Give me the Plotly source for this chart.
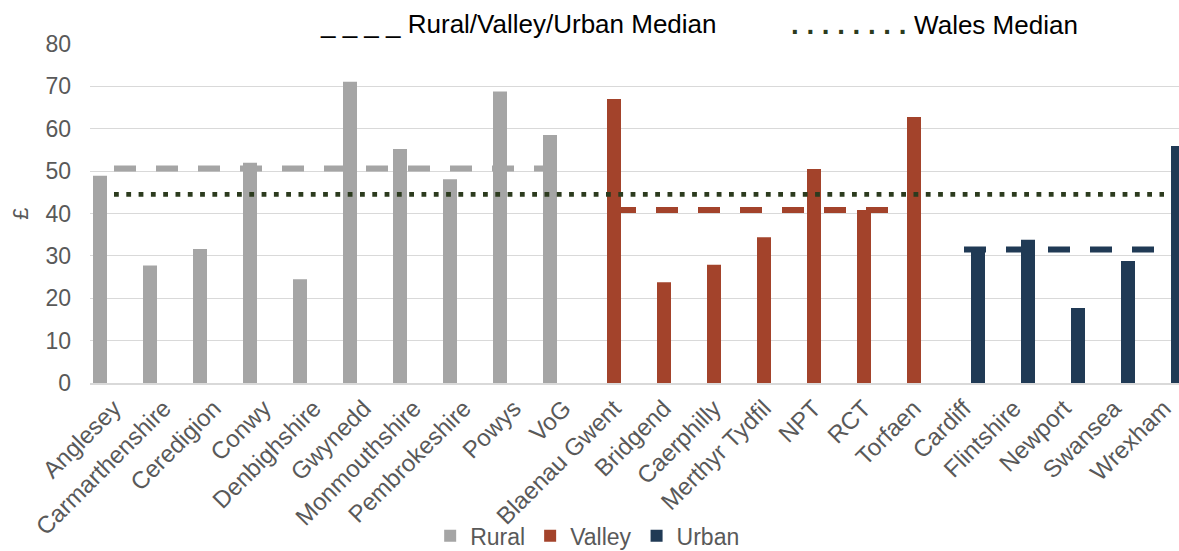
import plotly.graph_objects as go

# ---- data ----
categories = ["Anglesey", "Carmarthenshire", "Ceredigion", "Conwy", "Denbighshire",
              "Gwynedd", "Monmouthshire", "Pembrokeshire", "Powys", "VoG",
              "Blaenau Gwent", "Bridgend", "Caerphilly", "Merthyr Tydfil", "NPT",
              "RCT", "Torfaen",
              "Cardiff", "Flintshire", "Newport", "Swansea", "Wrexham"]

rural_names = categories[0:10]
valley_names = categories[10:17]
urban_names = categories[17:22]

rural_values = [48.9, 27.7, 31.6, 52.0, 24.5, 71.1, 55.2, 48.1, 68.8, 58.5]
valley_values = [67.0, 23.8, 27.9, 34.4, 50.5, 40.8, 62.8]
urban_values = [31.5, 33.8, 17.7, 28.8, 55.9]

rural_median = 50.6
valley_median = 40.8
urban_median = 31.5
wales_median = 44.5

y_ticks = [0, 10, 20, 30, 40, 50, 60, 70, 80]

# ---- styling ----
FONT = "Liberation Sans, Arial, sans-serif"
GREY_TXT = "#595959"
C_RURAL = "#A5A5A5"
C_VALLEY = "#A3432B"
C_URBAN = "#203A55"
C_WALES = "#2C3B1E"


def series(names, values):
    m = dict(zip(names, values))
    return [m.get(c) for c in categories]


fig = go.Figure()

fig.add_trace(go.Bar(x=categories, y=series(rural_names, rural_values), name="Rural",
                     marker=dict(color=C_RURAL, line=dict(width=0))))
fig.add_trace(go.Bar(x=categories, y=series(valley_names, valley_values), name="Valley",
                     marker=dict(color=C_VALLEY, line=dict(width=0))))
fig.add_trace(go.Bar(x=categories, y=series(urban_names, urban_values), name="Urban",
                     marker=dict(color=C_URBAN, line=dict(width=0))))

# group medians (dashed)
for names, med, col in [(rural_names, rural_median, C_RURAL),
                        (valley_names, valley_median, C_VALLEY),
                        (urban_names, urban_median, C_URBAN)]:
    fig.add_trace(go.Scatter(x=[names[0], names[-1]], y=[med, med], mode="lines",
                             line=dict(color=col, width=6, dash="22px,20px"),
                             showlegend=False, hoverinfo="skip"))

# Wales median (dotted)
fig.add_trace(go.Scatter(x=[categories[0], categories[-1]], y=[wales_median, wales_median],
                         mode="lines",
                         line=dict(color=C_WALES, width=4.8, dash="4.8px,7.5px"),
                         showlegend=False, hoverinfo="skip"))

fig.update_layout(
    template="none",
    width=1179, height=551,
    margin=dict(l=90, r=0, t=43.5, b=167.5, autoexpand=False),
    paper_bgcolor="white", plot_bgcolor="white",
    font=dict(family=FONT, size=22, color=GREY_TXT),
    barmode="group", bargap=0.16, bargroupgap=0,
    showlegend=True,
    legend=dict(orientation="h", x=0.457, xanchor="center", y=-0.451, yanchor="middle",
                font=dict(family=FONT, size=23, color=GREY_TXT), itemwidth=30,
                bgcolor="rgba(0,0,0,0)", traceorder="normal"),
    xaxis=dict(type="category", range=[-0.48, 21.3], tickangle=-45,
               showgrid=False, showline=True, linecolor="#D9D9D9", linewidth=1.5,
               ticks="", tickfont=dict(family=FONT, size=24, color=GREY_TXT),
               automargin=False),
    yaxis=dict(range=[0, 80], tickvals=y_ticks, showgrid=True, gridcolor="#D9D9D9",
               gridwidth=1.3, zeroline=False, showline=False, ticks="",
               ticklabelstandoff=18,
               tickfont=dict(family=FONT, size=23, color=GREY_TXT),
               title=dict(text="£", font=dict(family=FONT, size=22, color=GREY_TXT), standoff=10),
               automargin=False),
    annotations=[
        dict(xref="paper", yref="paper", x=0.3939, y=1.0588, xanchor="center", yanchor="middle",
             text="_ _ _ _ Rural/Valley/Urban Median", showarrow=False,
             font=dict(family=FONT, size=26, color="#000000")),
        dict(xref="paper", yref="paper", x=0.7755, y=1.0588, xanchor="center", yanchor="middle",
             text="<span style='font-size:27.7px;color:" + C_WALES + "'><b>. . . . . . . . </b></span>Wales Median",
             showarrow=False,
             font=dict(family=FONT, size=26, color="#000000")),
    ],
)

fig.write_html("out.html", config={"displayModeBar": False},
               post_script="document.body.style.margin='0';document.body.style.overflow='hidden';")
